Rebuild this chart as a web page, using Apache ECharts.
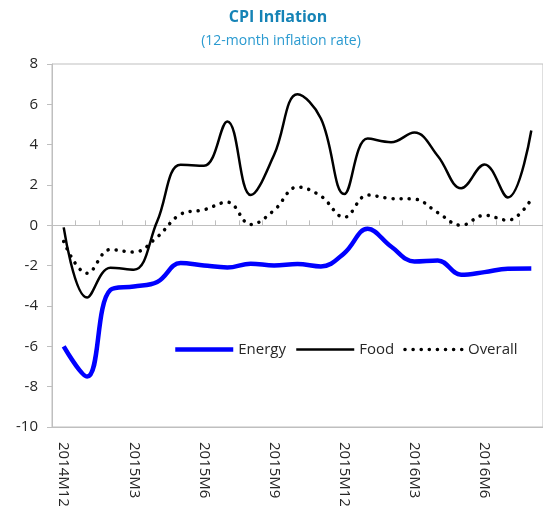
<!DOCTYPE html>
<html>
<head>
<meta charset="utf-8">
<script src="https://cdn.jsdelivr.net/npm/echarts@6/dist/echarts.min.js"></script>
<style>
  html, body { margin: 0; padding: 0; background: #fff; }
  #chart { width: 543px; height: 515px; }
</style>
</head>
<body>
<div id="chart"></div>
<script>
const months = ['2014M12', '2015M1', '2015M2', '2015M3', '2015M4', '2015M5', '2015M6', '2015M7',
  '2015M8', '2015M9', '2015M10', '2015M11', '2015M12', '2016M1', '2016M2', '2016M3',
  '2016M4', '2016M5', '2016M6', '2016M7', '2016M8']

const energy = [-6.0, -7.5, -3.2, -3.03, -2.81, -1.87, -1.99, -2.09, -1.9, -1.99, -1.92,
  -2.04, -1.38, -0.17, -1.05, -1.79, -1.74, -2.45, -2.32, -2.15, -2.14]
const food = [-0.1, -3.58, -2.1, -2.2, 0.2, 3.0, 2.95, 5.15, 1.5, 3.5, 6.5,
  5.3, 1.55, 4.3, 4.12, 4.6, 3.44, 1.84, 3.02, 1.38, 4.7]
const overall = [-0.8, -2.38, -1.2, -1.33, -0.58, 0.55, 0.77, 1.15, 0.04, 0.75, 1.9,
  1.45, 0.4, 1.5, 1.33, 1.3, 0.63, 0.0, 0.5, 0.25, 1.3]

const fontName = 'Open Sans'
const axisGrey = '#bfbfbf'
const textColor = '#262626'

const chart = echarts.init(document.getElementById('chart'))
chart.setOption({
  animation: false,
  title: [
    {
      text: 'CPI Inflation',
      left: 273,
      top: 4,
      textAlign: 'center',
      textStyle: { fontFamily: fontName, fontSize: 16, fontWeight: 'bold', color: '#1583b6' }
    },
    {
      text: '(12-month inflation rate)',
      left: 276,
      top: 29,
      textAlign: 'center',
      textStyle: { fontFamily: fontName, fontSize: 14, fontWeight: 'normal', color: '#2a9ad0' }
    }
  ],
  grid: {
    left: 52,
    right: -4,
    top: 64,
    bottom: 88,
    show: true,
    borderColor: axisGrey,
    borderWidth: 1
  },
  legend: {
    left: 168,
    top: 337,
    itemWidth: 58,
    itemHeight: 14,
    itemGap: 9,
    itemStyle: { opacity: 0 },
    lineStyle: { width: 'inherit' },
    textStyle: { fontFamily: fontName, fontSize: 15, color: textColor },
    data: ['Energy', 'Food', 'Overall']
  },
  xAxis: [
    {
      type: 'category',
      data: months,
      position: 'bottom',
      axisLine: { onZero: false, lineStyle: { color: axisGrey } },
      axisTick: { show: false },
      axisLabel: {
        interval: 2,
        rotate: -90,
        margin: 15,
        fontFamily: fontName,
        fontSize: 15,
        color: textColor
      }
    },
    {
      type: 'category',
      data: months,
      position: 'bottom',
      axisLine: { onZero: true, lineStyle: { color: axisGrey } },
      axisTick: { show: true, inside: true, length: 5, interval: 0, lineStyle: { color: axisGrey } },
      axisLabel: { show: false }
    }
  ],
  yAxis: {
    type: 'value',
    min: -10,
    max: 8,
    interval: 2,
    axisLine: { show: true, lineStyle: { color: axisGrey } },
    axisTick: { show: true, length: 5, lineStyle: { color: axisGrey } },
    splitLine: { show: false },
    axisLabel: { margin: 14, fontFamily: fontName, fontSize: 15, color: textColor }
  },
  series: [
    {
      name: 'Energy',
      type: 'line',
      xAxisIndex: 0,
      data: energy,
      smooth: 0.4,
      symbol: 'none',
      color: '#0000ff',
      lineStyle: { width: 4.5, color: '#0000ff' }
    },
    {
      name: 'Food',
      type: 'line',
      xAxisIndex: 0,
      data: food,
      smooth: 0.4,
      symbol: 'none',
      color: '#000000',
      lineStyle: { width: 2.5, color: '#000000' }
    },
    {
      name: 'Overall',
      type: 'line',
      xAxisIndex: 0,
      data: overall,
      smooth: 0.4,
      symbol: 'none',
      color: '#000000',
      lineStyle: { width: 3.5, color: '#000000', type: [0.1, 8], cap: 'round' }
    }
  ]
})
</script>
</body>
</html>
